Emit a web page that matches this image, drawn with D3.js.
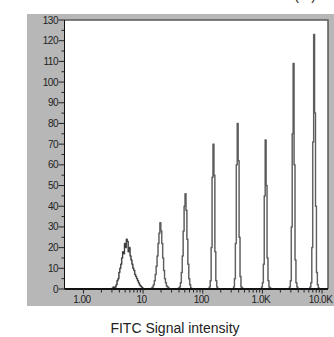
<!doctype html>
<html lang="en">
<head>
<meta charset="utf-8">
<title>FITC Signal intensity</title>
<script src="https://cdn.jsdelivr.net/npm/d3@7"></script>
<style>
  body { margin: 0; background: #fff; }
  svg text { font-family: "Liberation Sans", Arial, sans-serif; }
</style>
</head>
<body>
<div id="chart"></div>
<script>
// histogram channels: 64 per decade, channel c spans 10^(c/64) .. 10^((c+1)/64)
var chPerDecade = 64;

// first channel of every bead peak
var peakStart = [31, 73, 102, 135, 161, 191, 221, 243];

// counts (%) per channel
var peakCounts = [
  [0.5, 1, 0.5, 1, 2, 4, 5, 8, 10, 12, 15, 18, 17, 22, 20, 24, 23, 18, 20, 16, 14, 12, 10, 9, 7, 6, 5, 4, 3, 2, 1.5, 1, 0.5],
  [0.5, 1, 2, 4, 7, 11, 16, 22, 27, 32, 28, 22, 15, 9, 5, 3, 1.5, 1, 0.5],
  [0.5, 1, 3, 8, 16, 28, 40, 46, 38, 24, 12, 5, 2, 0.5],
  [1, 4, 20, 54, 70, 55, 18, 4, 1],
  [1, 5, 22, 60, 80, 62, 25, 6, 1, 0.5],
  [1, 3, 12, 45, 72, 50, 15, 4, 1, 0.5],
  [1, 4, 30, 75, 109, 60, 14, 3, 1],
  [1, 3, 20, 71, 123, 85, 40, 8, 2, 0.5]
];

var yTicks = [0, 10, 20, 30, 40, 50, 60, 70, 80, 90, 100, 110, 120, 130];
var xTickValues = [1, 10, 100, 1000, 10000];
var xTickLabels = ["1.00", "10", "100", "1.0K", "10.0K"];
var xTitle = "FITC Signal intensity";

var W = 334, H = 337;
var pLeft = 64.5, pTop = 20, pRight = 328, pBottom = 289;

var svg = d3.select("#chart").append("svg")
    .attr("width", W)
    .attr("height", H);

// grey panel behind the plot
svg.append("rect")
    .attr("x", 27).attr("y", 14)
    .attr("width", W - 27).attr("height", 292)
    .attr("fill", "#b7b7b7");

svg.append("rect")
    .attr("x", pLeft).attr("y", pTop)
    .attr("width", pRight - pLeft).attr("height", pBottom - pTop)
    .attr("fill", "#fff");

// cut-off heading above the panel
svg.append("text")
    .attr("x", 316).attr("y", 0)
    .attr("text-anchor", "end")
    .attr("font-size", 14)
    .attr("fill", "#222")
    .text("(%)");

var x = d3.scaleLog()
    .domain([Math.pow(10, -0.318), Math.pow(10, 4.1)])
    .range([pLeft, pRight]);

var y = d3.scaleLinear()
    .domain([0, 130])
    .range([pBottom, pTop]);

function chan(c) { return Math.pow(10, c / chPerDecade); }

// step outline of each peak
var line = d3.line()
    .x(function(d) { return x(d[0]); })
    .y(function(d) { return y(d[1]); });

peakCounts.forEach(function(counts, i) {
  var s = peakStart[i];
  var pts = [[chan(s), 0]];
  counts.forEach(function(v, j) {
    pts.push([chan(s + j), v]);
    pts.push([chan(s + j + 1), v]);
  });
  pts.push([chan(s + counts.length), 0]);

  svg.append("path")
      .attr("d", line(pts))
      .attr("fill", "none")
      .attr("stroke", "#8a8a8a")
      .attr("stroke-width", 1.5);
  svg.append("path")
      .attr("d", line(pts))
      .attr("fill", "none")
      .attr("stroke", "#222")
      .attr("stroke-opacity", i === 0 ? 0.85 : 0.65)
      .attr("stroke-width", i === 0 ? 0.9 : 0.7);
});

// frame: top and right in dark grey
svg.append("path")
    .attr("d", "M" + pLeft + "," + pTop + "H" + pRight + "V" + pBottom)
    .attr("fill", "none")
    .attr("stroke", "#5a5a5a")
    .attr("stroke-width", 1.5);

// y axis
var yAxis = svg.append("g");
yAxis.append("line")
    .attr("x1", pLeft).attr("x2", pLeft)
    .attr("y1", pTop).attr("y2", pBottom)
    .attr("stroke", "#111").attr("stroke-width", 1);

d3.range(0, 131, 5).forEach(function(v) {
  var major = v % 10 === 0;
  yAxis.append("line")
      .attr("x1", major ? pLeft - 6 : pLeft - 3).attr("x2", pLeft)
      .attr("y1", y(v)).attr("y2", y(v))
      .attr("stroke", "#222").attr("stroke-width", 1);
});

yAxis.selectAll("text")
    .data(yTicks)
    .enter().append("text")
      .attr("x", pLeft - 6.5)
      .attr("y", function(d) { return y(d); })
      .attr("dy", "0.35em")
      .attr("text-anchor", "end")
      .attr("font-size", 10)
      .attr("letter-spacing", -0.5)
      .attr("fill", "#222")
      .text(function(d) { return d; });

// x axis
var xAxis = svg.append("g");
xAxis.append("line")
    .attr("x1", pLeft).attr("x2", pRight)
    .attr("y1", pBottom).attr("y2", pBottom)
    .attr("stroke", "#111").attr("stroke-width", 2);

x.ticks().forEach(function(v) {
  if (v < 1) return;
  var major = xTickValues.indexOf(v) >= 0;
  xAxis.append("line")
      .attr("x1", x(v)).attr("x2", x(v))
      .attr("y1", pBottom).attr("y2", pBottom + (major ? 4.5 : 3.5))
      .attr("stroke", "#222").attr("stroke-width", 1);
});

xAxis.selectAll("text")
    .data(xTickValues)
    .enter().append("text")
      .attr("x", function(d) { return x(d) - 1.5; })
      .attr("y", pBottom + 14)
      .attr("text-anchor", "middle")
      .attr("font-size", 10)
      .attr("letter-spacing", -0.5)
      .attr("fill", "#222")
      .text(function(d, i) { return xTickLabels[i]; });

svg.append("text")
    .attr("x", 175)
    .attr("y", 333)
    .attr("text-anchor", "middle")
    .attr("font-size", 14)
    .attr("fill", "#222")
    .text(xTitle);
</script>
</body>
</html>
